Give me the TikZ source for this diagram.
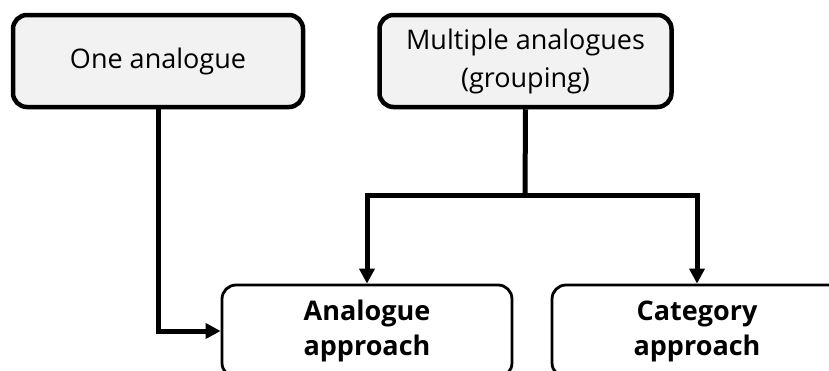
\documentclass[tikz,border=0pt]{standalone}
\usepackage{fontspec}
\setmainfont{Open Sans}
\usetikzlibrary{arrows.meta}
\begin{document}
\begin{tikzpicture}[x=1pt,y=-1pt,
  source/.style={draw=black, line width=4.5pt, fill=srcfill, rounded corners=14pt,
    minimum width=290pt, minimum height=92pt, inner sep=0pt, align=center,
    font=\fontsize{27}{38}\selectfont},
  target/.style={draw=black, line width=2.8pt, fill=white, rounded corners=14pt,
    minimum width=290pt, minimum height=92pt, inner sep=0pt, align=center,
    font=\fontsize{27}{35}\selectfont\bfseries},
  conn/.style={line width=5pt, line join=miter},
  arr/.style={conn, -{Triangle[length=15pt,width=15pt]}}]
\definecolor{srcfill}{HTML}{F2F2F2}
\useasboundingbox (0,0) rectangle (829,370);
\clip (0,0) rectangle (829,370);
% sources
\node[source] (one) at (158,61) {One analogue};
\node[source, minimum width=292pt] (multi) at (525.5,61) {Multiple analogues\\(grouping)};
% targets
\node[target] (ana) at (367,331) {Analogue\\approach};
\node[target] (cat) at (697,331) {Category\\approach};
% connectors
\coordinate (split) at (525,195);
\draw[arr] (one.south) |- (ana.west);
\draw[conn] (multi.south) -- (split);
\draw[arr] (split) -| (ana.north);
\draw[arr] (split) -| (cat.north);
\end{tikzpicture}
\end{document}
